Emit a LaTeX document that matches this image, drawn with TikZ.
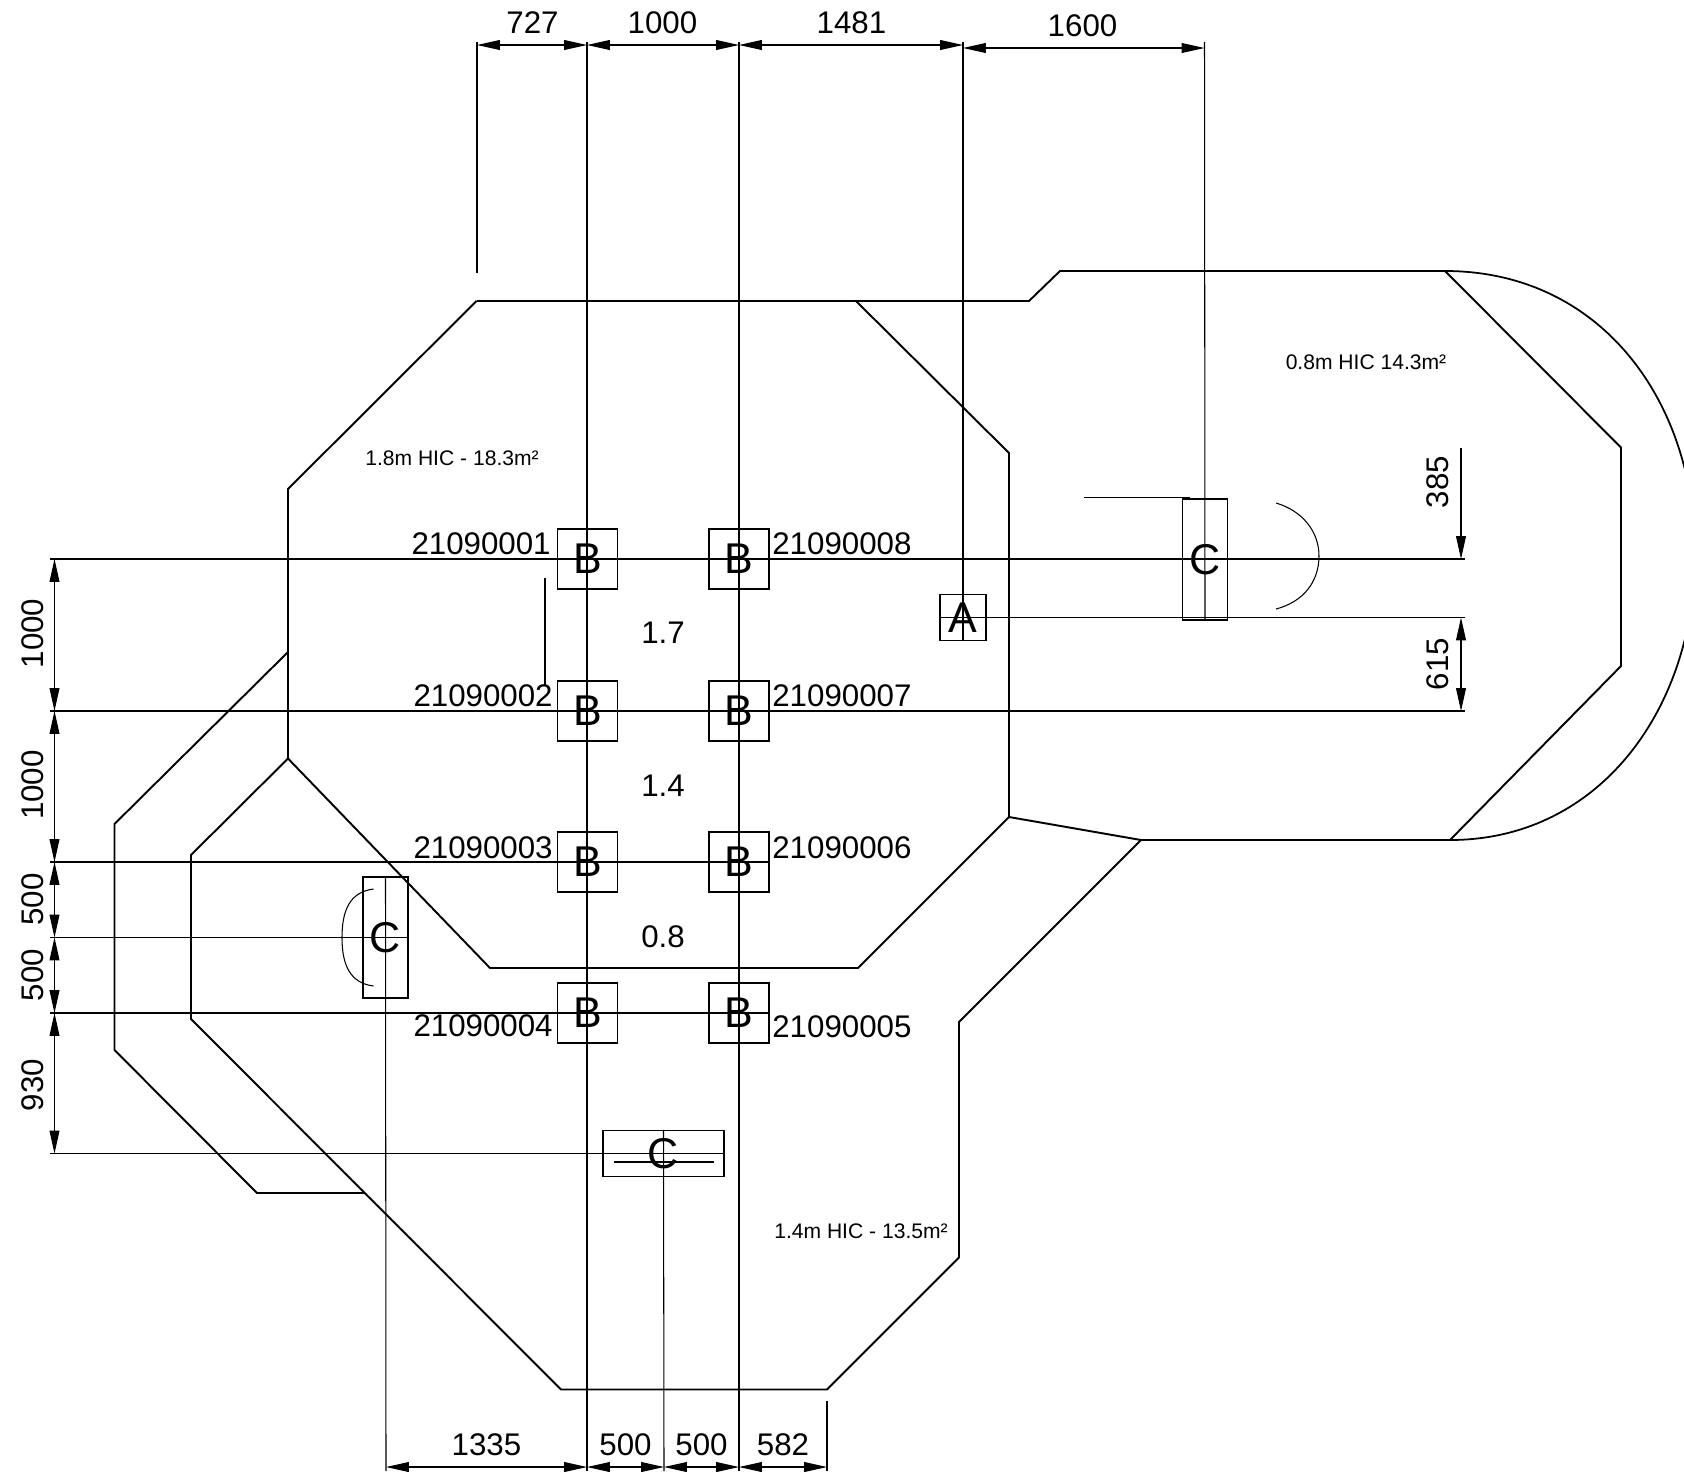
\documentclass[tikz,border=0pt]{standalone}
\usepackage{fontspec}
\setmainfont{Liberation Sans}
\usetikzlibrary{arrows.meta}
\begin{document}
\begin{tikzpicture}[x=0.02cm,y=-0.02cm,
	>={Triangle[length=13pt,width=5.6pt]},
	wall/.style={line width=1.1pt,line join=miter},
	thin line/.style={line width=0.6pt},
	dimline/.style={thin line,<->},
	marker/.style={draw,line width=0.7pt,inner sep=0pt,font=\fontsize{24.5}{24.5}\selectfont},
	bbox/.style={marker,minimum size=60*0.02cm},
	abox/.style={marker,minimum size=46*0.02cm},
	cvert/.style={marker,minimum width=45*0.02cm,minimum height=121*0.02cm},
	chori/.style={marker,minimum width=121*0.02cm,minimum height=46*0.02cm},
	dimtext/.style={font=\fontsize{17.8}{17.8}\selectfont,inner sep=0pt},
	sidetext/.style={dimtext,rotate=90},
	areatext/.style={font=\fontsize{12}{12}\selectfont,inner sep=0pt}]
	
	\useasboundingbox (0,0) rectangle (1684,1471);
	
	\draw[wall] (476.5,301) -- (1029,301) -- (1060,271) -- (1445,271) -- (1621,447.5) -- (1621,666) -- (1450,840) -- (1141,840) -- (1009,817) -- (1009,453) -- (856,301);
	\draw[wall] (1009,817) -- (858,968) -- (490,968) -- (288,758.5) -- (288,489) -- (476.5,301);
	\draw[wall] (288,758.5) -- (191,855) -- (191,1019) -- (561,1389.5) -- (827,1389.5) -- (959,1257.5) -- (959,1022) -- (1141,840);
	\draw[wall] (288,652) -- (114.5,824) -- (114.5,1050) -- (257,1193) -- (364,1193);
	\draw[line width=1pt] (1445,271) .. controls (1600,271) and (1695,400) .. (1695,554) .. controls (1695,708) and (1600,840) .. (1450,840);
	
	\node[bbox] (b1) at (587.5,559) {B};
	\node[bbox] (b2) at (587.5,711) {B};
	\node[bbox] (b3) at (587.5,862) {B};
	\node[bbox] (b4) at (587.5,1013) {B};
	\node[bbox] (b5) at (739,1013) {B};
	\node[bbox] (b6) at (739,862) {B};
	\node[bbox] (b7) at (739,711) {B};
	\node[bbox] (b8) at (739,559) {B};
	\node[abox] (a) at (963,617.5) {A};
	\node[cvert] (cl) at (385.5,937.5) {C};
	\node[cvert] (cr) at (1205,559.5) {C};
	\node[chori] (cb) at (663.5,1153.5) {C};
	
	\coordinate (t0) at (477,42);
	\coordinate (t0e) at (477,273);
	\coordinate (t1) at (587,42);
	\coordinate (t2) at (739,42);
	\coordinate (t3) at (963,42);
	\coordinate (t4) at (1204.5,42);
	\coordinate (bl) at (386,1471);
	\coordinate (bm) at (664,1471);
	\coordinate (b1e) at (587,1471);
	\coordinate (b2e) at (739,1471);
	\coordinate (br) at (827,1471);
	\coordinate (bre) at (827,1400.5);
	\coordinate (l1) at (50,559);
	\coordinate (l2) at (50,711);
	\coordinate (l3) at (50,862);
	\coordinate (l4) at (50,937.5);
	\coordinate (l5) at (50,1013);
	\coordinate (l6) at (50,1153.5);
	\coordinate (r1) at (1465,559);
	\coordinate (r2) at (1465,617.5);
	\coordinate (r3) at (1465,711);
	
	\draw[thin line] (t0) -- (t0e);
	\draw[thin line] (t1) -- (b1e);
	\draw[thin line] (t2) -- (b2e);
	\draw[thin line] (t3) -- (a.south);
	\draw[thin line] (t4) -- (cr.south);
	\draw[thin line] (cl.north) -- (bl);
	\draw[thin line] (cb.north) -- (bm);
	\draw[thin line] (bre) -- (br);
	\draw[thin line] (l1) -- (r1);
	\draw[thin line] (l2) -- (r3);
	\draw[thin line] (l3) -- (b6.east);
	\draw[thin line] (l4) -- (cl.east);
	\draw[thin line] (l5) -- (b5.east);
	\draw[thin line] (l6) -- (cb.east);
	\draw[thin line] (a.west) -- (r2);
	
	\coordinate (x1) at (545,578);
	\coordinate (x2) at (545,685);
	\coordinate (x3) at (1084,497.5);
	\coordinate (x4) at (1190,497.5);
	\coordinate (x5) at (614,1162);
	\coordinate (x6) at (713.5,1162);
	\draw[thin line] (x1) -- (x2);
	\draw[thin line] (x3) -- (x4);
	\draw[thin line] (x5) -- (x6);
	\draw[thin line] (1276,503) .. controls (1303,511) and (1319,532) .. (1319,556) .. controls (1319,582) and (1303,602) .. (1276,609);
	\draw[thin line] (373.5,889) .. controls (350,892) and (342,910) .. (342,937.5) .. controls (342,965) and (350,983) .. (373.5,986);
	
	\coordinate (dt0) at (477,45);
	\coordinate (dt1) at (587,45);
	\coordinate (dt2) at (739,45);
	\coordinate (dt3) at (963,45);
	\coordinate (dt4) at (963,48);
	\coordinate (dt5) at (1204.5,48);
	\draw[dimline] (dt0) -- (dt1);
	\draw[dimline] (dt1) -- (dt2);
	\draw[dimline] (dt2) -- (dt3);
	\draw[dimline] (dt4) -- (dt5);
	\node[dimtext] (n727) at (532.5,23) {727};
	\node[dimtext] (n1000) at (662.5,22.5) {1000};
	\node[dimtext] (n1481) at (851.5,22.5) {1481};
	\node[dimtext] (n1600) at (1082.5,26) {1600};
	
	\coordinate (db0) at (386,1467);
	\coordinate (db1) at (587,1467);
	\coordinate (db2) at (664,1467);
	\coordinate (db3) at (739,1467);
	\coordinate (db4) at (827,1467);
	\draw[dimline] (db0) -- (db1);
	\draw[dimline] (db1) -- (db2);
	\draw[dimline] (db2) -- (db3);
	\draw[dimline] (db3) -- (db4);
	\node[dimtext] (n1335) at (486.5,1445) {1335};
	\node[dimtext] (n500a) at (625.5,1445) {500};
	\node[dimtext] (n500b) at (701.5,1445) {500};
	\node[dimtext] (n582) at (783,1445) {582};
	
	\coordinate (dl1) at (54.5,559);
	\coordinate (dl2) at (54.5,711);
	\coordinate (dl3) at (54.5,862);
	\coordinate (dl4) at (54.5,937.5);
	\coordinate (dl5) at (54.5,1013);
	\coordinate (dl6) at (54.5,1153.5);
	\draw[dimline] (dl1) -- (dl2);
	\draw[dimline] (dl2) -- (dl3);
	\draw[dimline] (dl3) -- (dl4);
	\draw[dimline] (dl4) -- (dl5);
	\draw[dimline] (dl5) -- (dl6);
	\node[sidetext] (s1000a) at (32.5,633.5) {1000};
	\node[sidetext] (s1000b) at (32.5,785) {1000};
	\node[sidetext] (s500a) at (32.5,899.5) {500};
	\node[sidetext] (s500b) at (32.5,975) {500};
	\node[sidetext] (s930) at (32.5,1085) {930};
	
	\coordinate (dr0) at (1461,448);
	\coordinate (dr1) at (1461,559);
	\coordinate (dr2) at (1461,617.5);
	\coordinate (dr3) at (1461,711);
	\draw[thin line,->] (dr0) -- (dr1);
	\draw[dimline] (dr2) -- (dr3);
	\node[sidetext] (s385) at (1437.5,482) {385};
	\node[sidetext] (s615) at (1437.5,664) {615};
	
	\node[dimtext,anchor=east] (id1) at (551,544) {21090001};
	\node[dimtext,anchor=east] (id2) at (553,696) {21090002};
	\node[dimtext,anchor=east] (id3) at (553,848) {21090003};
	\node[dimtext,anchor=east] (id4) at (553,1026) {21090004};
	\node[dimtext,anchor=west] (id5) at (772,1026.5) {21090005};
	\node[dimtext,anchor=west] (id6) at (772,848) {21090006};
	\node[dimtext,anchor=west] (id7) at (772,696) {21090007};
	\node[dimtext,anchor=west] (id8) at (772,544) {21090008};
	
	\node[dimtext] (h17) at (663,633) {1.7};
	\node[dimtext] (h14) at (663,786) {1.4};
	\node[dimtext] (h08) at (663,936.5) {0.8};
	
	\node[areatext] (area1) at (452,458.5) {1.8m HIC - 18.3m²};
	\node[areatext] (area2) at (1366,362) {0.8m HIC 14.3m²};
	\node[areatext] (area3) at (861,1231) {1.4m HIC - 13.5m²};
	
\end{tikzpicture}
\end{document}
